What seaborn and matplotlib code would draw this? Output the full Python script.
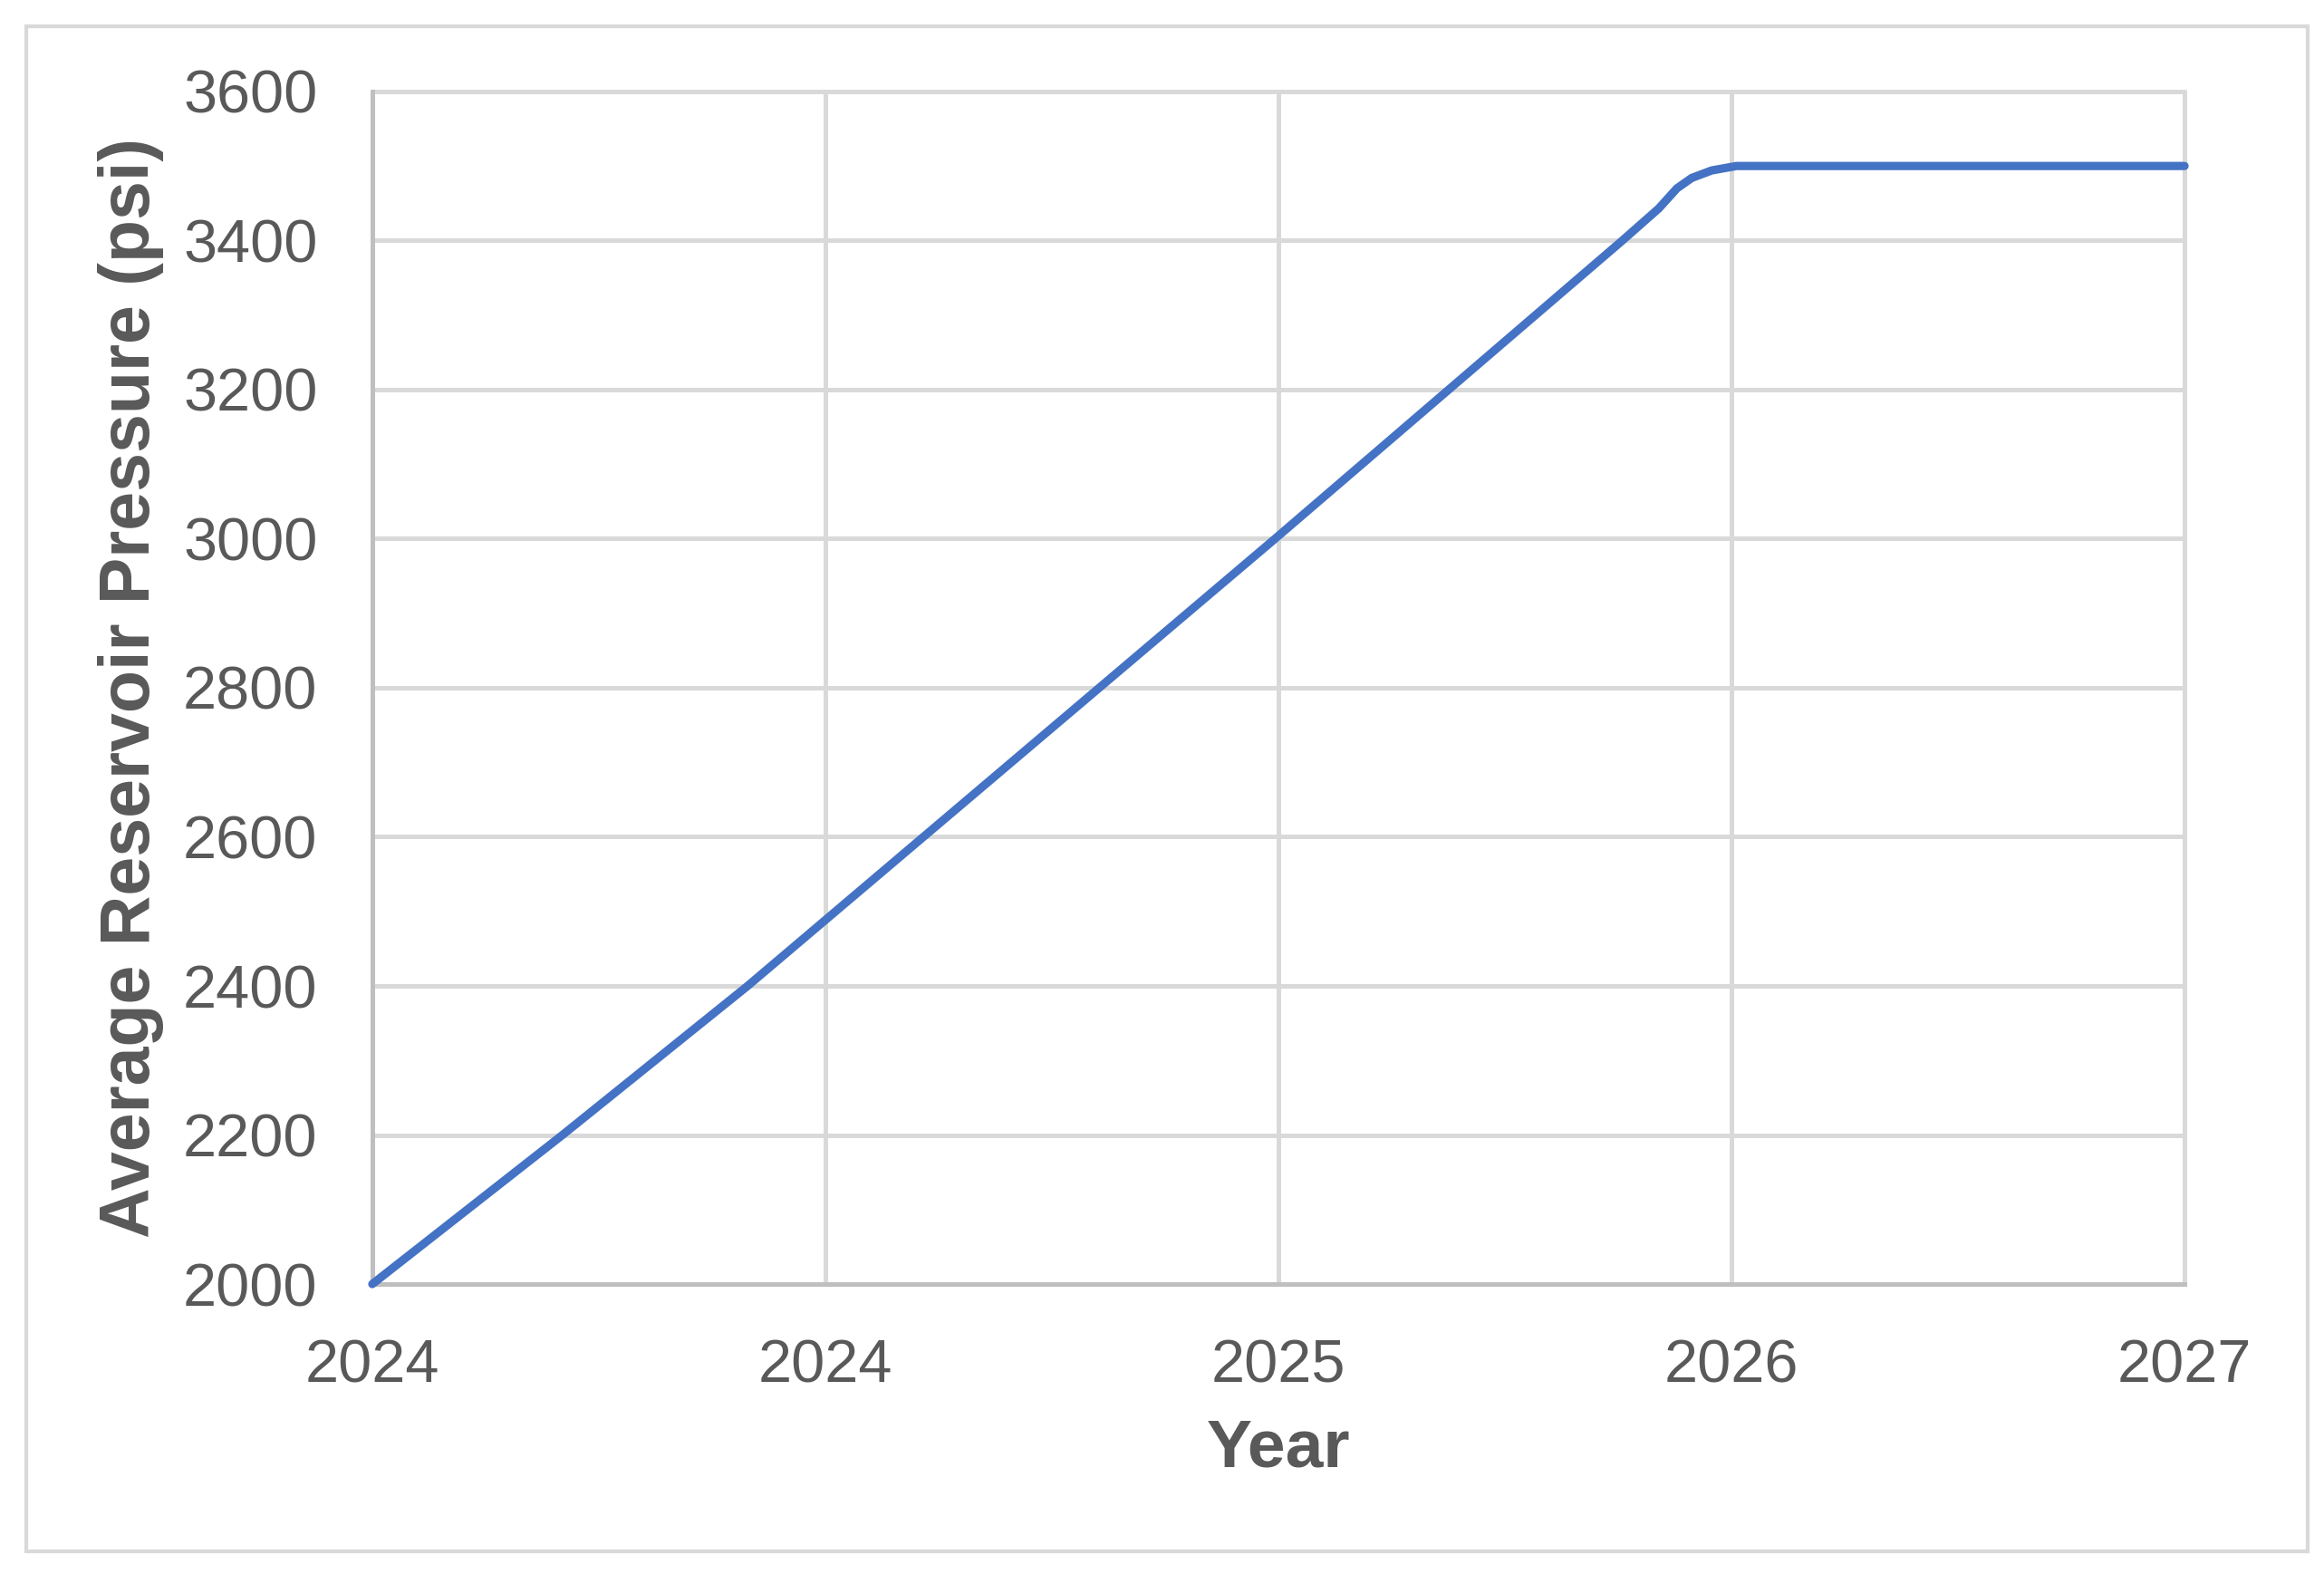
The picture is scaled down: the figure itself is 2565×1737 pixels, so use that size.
import pandas as pd
import seaborn as sns
import matplotlib.pyplot as plt
import matplotlib as mpl
import matplotlib.dates as mdates
from matplotlib.patches import Rectangle


# values (crossings of the grid + the knee near 2026)
dates = ["2024-01-01", "2024-04-25", "2024-08-15", "2025-06-30", "2026-01-26",
         "2026-02-17", "2026-02-28", "2026-03-09", "2026-03-21", "2026-04-05",
         "2027-01-01"]
pressure = [2000, 2200, 2400, 3000, 3400, 3443, 3470, 3484, 3494, 3500, 3500]

x_ticks = ["2024-01-01", "2024-10-01", "2025-07-02", "2026-04-02", "2027-01-01"]
y_ticks = [2000, 2200, 2400, 2600, 2800, 3000, 3200, 3400, 3600]

sns.set_style("white")
mpl.rcParams['font.family'] = ['Liberation Sans', 'DejaVu Sans']

df = pd.DataFrame({"Year": pd.to_datetime(dates), "Pressure": pressure})

fig = plt.figure(figsize=(8.55, 5.79), dpi=300)
ax = fig.add_axes([0.1602, 0.1842, 0.94 - 0.1602, 0.9419 - 0.1842])

sns.lineplot(data=df, x="Year", y="Pressure", ax=ax, color="#4472C4",
             linewidth=2.2, zorder=3, clip_on=False)
ax.lines[0].set_solid_joinstyle("round")

ax.set_xlim(pd.Timestamp(x_ticks[0]), pd.Timestamp(x_ticks[-1]))
ax.set_xticks(pd.to_datetime(x_ticks))
ax.xaxis.set_major_formatter(mdates.DateFormatter("%Y"))
ax.set_ylim(y_ticks[0], y_ticks[-1])
ax.set_yticks(y_ticks)

ax.grid(True, color="#D9D9D9", linewidth=1.2)
for gl in ax.get_xgridlines() + ax.get_ygridlines():
    gl.set_clip_on(False)
ax.set_axisbelow(True)

for s in ["top", "right"]:
    ax.spines[s].set_visible(False)
for s in ["left", "bottom"]:
    ax.spines[s].set_color("#BFBFBF")
    ax.spines[s].set_linewidth(1.2)

ax.tick_params(axis="both", length=0, labelsize=16, colors="#595959", pad=14.5)
ax.set_xlabel("Year", fontsize=18, fontweight="bold", color="#595959", labelpad=6)
ax.set_ylabel("Average Reservoir Pressure (psi)", fontsize=18.5, fontweight="bold",
              color="#595959", labelpad=5)

# chart area border
fig.patches.append(Rectangle((29 / 2565, 1 - 1712 / 1737), (2547 - 29) / 2565,
                             (1712 - 29) / 1737, transform=fig.transFigure,
                             fill=False, edgecolor="#D9D9D9", linewidth=1.0))

plt.savefig("out.png", dpi=300)
plt.close()
